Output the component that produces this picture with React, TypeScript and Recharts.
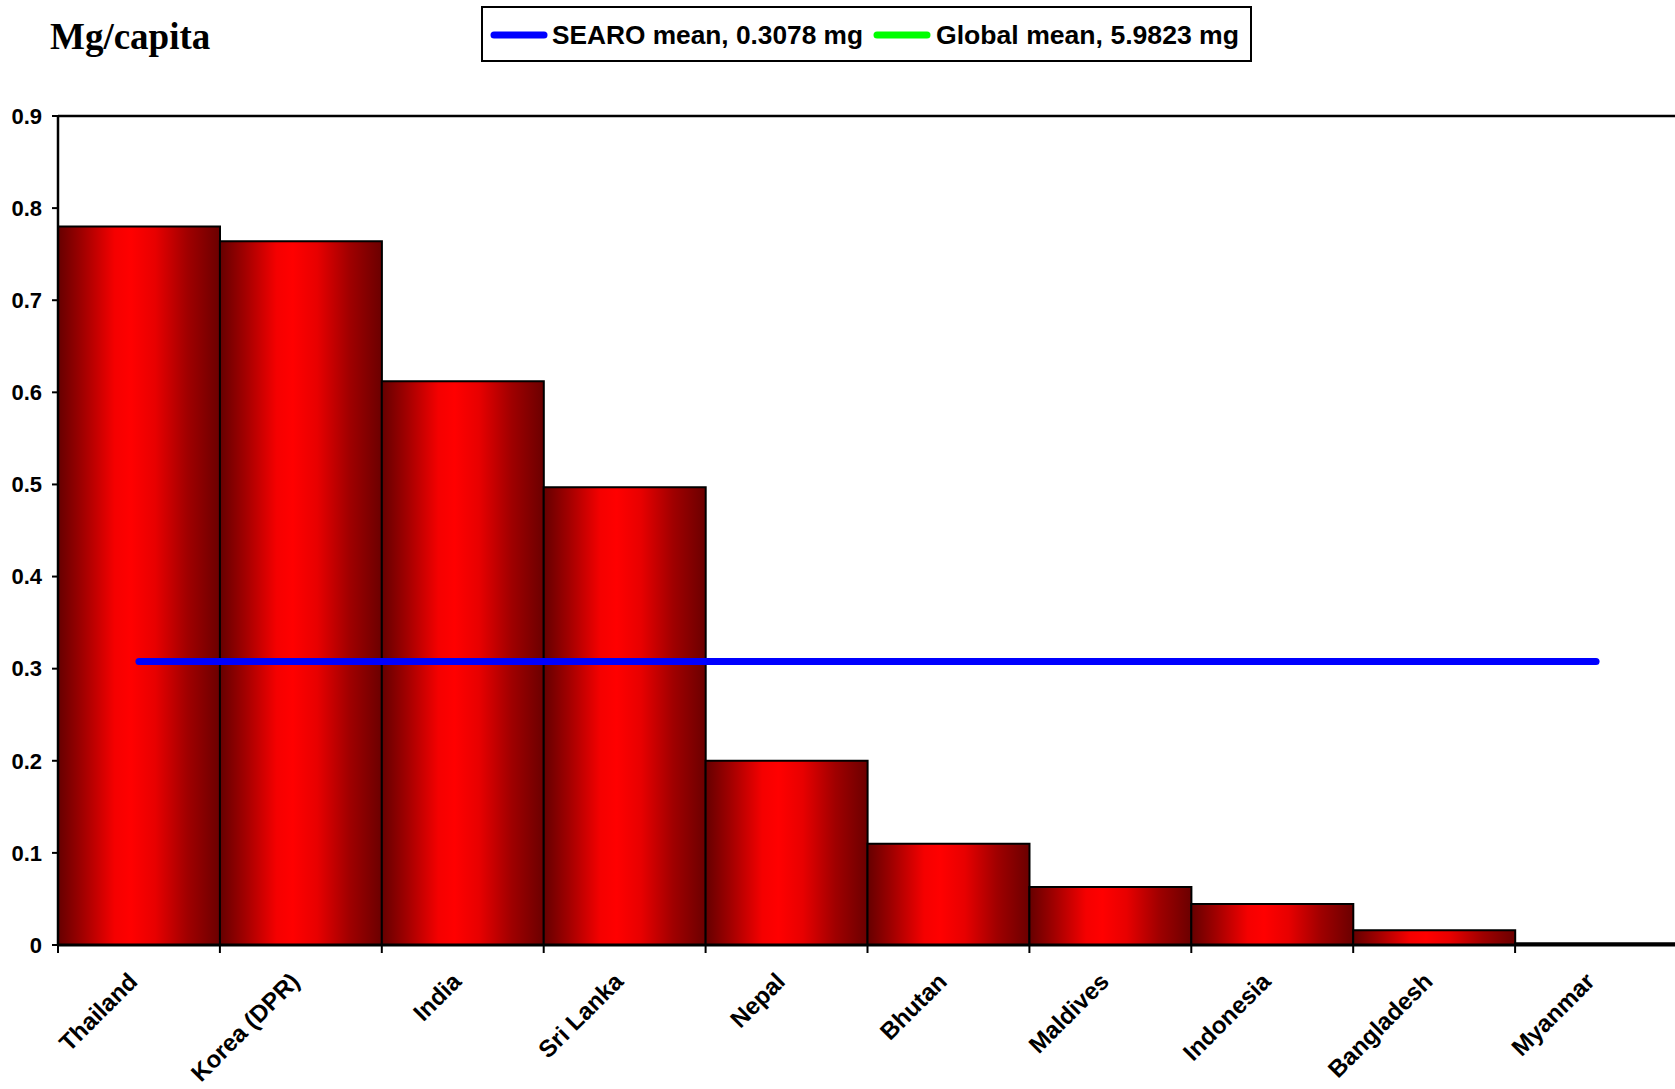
import React from 'react';
import {ComposedChart, Bar, Line, XAxis, YAxis, ReferenceLine} from 'recharts';

const CATEGORIES = ['Thailand', 'Korea (DPR)', 'India', 'Sri Lanka', 'Nepal', 'Bhutan', 'Maldives', 'Indonesia', 'Bangladesh', 'Myanmar'];
const VALUES = [0.78, 0.764, 0.612, 0.497, 0.2, 0.11, 0.063, 0.0445, 0.016, 0.002];
const SEARO_MEAN = 0.3078;
const GLOBAL_MEAN = 5.9823;
const Y_TICKS = [0, 0.1, 0.2, 0.3, 0.4, 0.5, 0.6, 0.7, 0.8, 0.9];

const data = CATEGORIES.map((name, i) => ({name, value: VALUES[i], searo: SEARO_MEAN}));

// layout
const CHART_W = 1680;
const LEFT = 58;
const RIGHT = 3;
const BAND = (CHART_W - LEFT - RIGHT) / CATEGORIES.length;

const XTick = (props: any) => {
    const {x, y, payload} = props;
    const left = x - BAND / 2;
    return (
        <g>
            <line x1={left} x2={left} y1={y} y2={y + 8} stroke="#000" strokeWidth={2}/>
            <text x={x} y={y + 38} textAnchor="end" transform={`rotate(-45 ${x} ${y + 38})`}
                  fontFamily="'Liberation Sans', Arial, sans-serif" fontWeight="bold" fontSize={24} fill="#000">
                {payload.value}
            </text>
        </g>
    );
};

const font = "'Liberation Sans', Arial, sans-serif";

// legend drawn as a small svg so the text can be fitted to the box
function ChartLegend() {
    return (
        <svg width={800} height={60} style={{position: 'absolute', left: 481, top: 6, overflow: 'visible'}}>
            <rect x={1} y={1} width={769} height={54} fill="#fff" stroke="#000" strokeWidth={2}/>
            <line x1={13} x2={63} y1={29} y2={29} stroke="#0000ff" strokeWidth={7} strokeLinecap="round"/>
            <text x={71} y={38} fontFamily={font} fontWeight="bold" fontSize={26.5} textLength={311}
                  lengthAdjust="spacingAndGlyphs">{`SEARO mean, ${SEARO_MEAN} mg`}</text>
            <line x1={396} x2={446} y1={29} y2={29} stroke="#00ff00" strokeWidth={7} strokeLinecap="round"/>
            <text x={455} y={38} fontFamily={font} fontWeight="bold" fontSize={26.5} textLength={303}
                  lengthAdjust="spacingAndGlyphs">{`Global mean, ${GLOBAL_MEAN} mg`}</text>
        </svg>
    );
}

export default function App() {
    return (
        <div style={{position: 'absolute', left: 0, top: 0, width: 1675, height: 1089, overflow: 'hidden', background: '#fff'}}>
            <div style={{
                position: 'absolute', left: 50, top: 18, lineHeight: '37px',
                fontFamily: "'Liberation Serif', 'Times New Roman', serif", fontWeight: 'bold', fontSize: 37,
            }}>
                Mg/capita
            </div>
            <ChartLegend/>
            <ComposedChart width={CHART_W} height={1089} data={data}
                           margin={{top: 116, right: RIGHT, bottom: 44, left: 0}} barCategoryGap={0}>
                <defs>
                    <linearGradient id="barGrad" x1="0" y1="0" x2="1" y2="0">
                        <stop offset="0" stopColor="#650000"/>
                        <stop offset="0.15" stopColor="#a00000"/>
                        <stop offset="0.35" stopColor="#f50000"/>
                        <stop offset="0.45" stopColor="#ff0000"/>
                        <stop offset="0.6" stopColor="#e80000"/>
                        <stop offset="0.8" stopColor="#a00000"/>
                        <stop offset="1" stopColor="#6b0000"/>
                    </linearGradient>
                </defs>
                <XAxis dataKey="name" height={100} tickLine={false} tickSize={0} tickMargin={0}
                       axisLine={{stroke: '#000', strokeWidth: 3}} tick={<XTick/>} interval={0}/>
                <YAxis width={LEFT} domain={[0, 0.9]} ticks={Y_TICKS} tickSize={6} tickMargin={10}
                       axisLine={{stroke: '#000', strokeWidth: 2.5}} tickLine={{stroke: '#000', strokeWidth: 2}}
                       tick={{fill: '#000', fontSize: 22, fontWeight: 'bold', fontFamily: font}}
                       allowDataOverflow/>
                <ReferenceLine y={0.9} stroke="#000" strokeWidth={2.5}/>
                <Bar dataKey="value" fill="url(#barGrad)" stroke="#000" strokeWidth={2} isAnimationActive={false}/>
                <Line dataKey="searo" stroke="#0000ff" strokeWidth={7} strokeLinecap="round" dot={false}
                      activeDot={false} isAnimationActive={false}/>
            </ComposedChart>
        </div>
    );
}
